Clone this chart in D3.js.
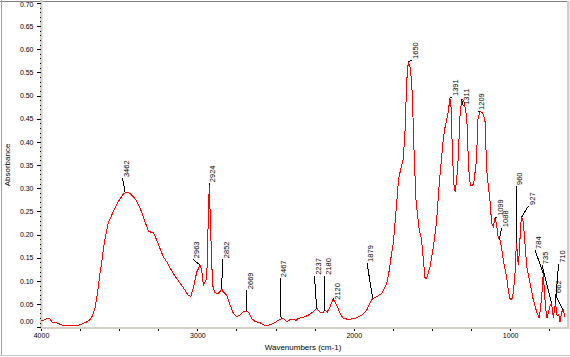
<!DOCTYPE html>
<html><head><meta charset="utf-8">
<script src="https://cdn.jsdelivr.net/npm/d3@7"></script>
<style>
html,body{margin:0;padding:0;background:#fff;}
svg{display:block;}
text{font-family:"Liberation Sans",Arial,sans-serif;fill:#000;}
</style></head><body>
<svg id="chart" width="570" height="357"></svg>
<script>
const wavenumbers = [
4000,3964,3942,3930,3910,3889,3868,3847,3815,3783,
3751,3729,3704,3687,3669,3655,3644,3634,3623,3612,
3602,3591,3570,3538,3506,3474,3456,3431,3410,3388,
3367,3335,3314,3297,3282,3260,3239,3218,3196,3154,
3111,3079,3058,3041,3026,3004,2983,2972,2962,2951,
2940,2934,2924,2913,2903,2887,2866,2844,2834,2812,
2791,2770,2749,2727,2706,2685,2668,2653,2631,2600,
2568,2536,2504,2472,2451,2429,2408,2387,2369,2355,
2323,2291,2259,2237,2216,2199,2184,2169,2152,2131,
2109,2088,2067,2035,1992,1949,1917,1885,1853,1821,
1789,1773,1757,1747,1730,1714,1698,1683,1672,1666,
1661,1651,1640,1629,1619,1613,1602,1583,1566,1555,
1544,1534,1512,1491,1471,1454,1439,1428,1417,1406,
1396,1385,1379,1374,1368,1359,1351,1342,1332,1321,
1310,1296,1283,1274,1268,1260,1251,1241,1232,1214,
1208,1193,1176,1161,1155,1150,1140,1129,1118,1108,
1097,1086,1076,1065,1055,1044,1022,1012,1001,990,
980,969,962,959,948,940,933,926,916,905,
894,884,873,852,830,814,798,788,777,766,
756,745,735,724,710,700,690,681,670,661,649];
const absorbance = [
.013,.018,.018,.011,.010,.008,.005,.003,.003,.003,
.005,.008,.012,.016,.026,.041,.062,.087,.116,.138,
.167,.190,.225,.249,.271,.287,.292,.289,.282,.272,
.258,.228,.208,.205,.205,.188,.170,.152,.141,.116,
.095,.080,.068,.067,.085,.119,.134,.123,.091,.098,
.106,.188,.307,.188,.091,.074,.073,.082,.076,.069,
.048,.030,.023,.026,.033,.035,.030,.019,.012,.010,
.003,.005,.010,.017,.019,.012,.016,.017,.014,.019,
.021,.026,.033,.041,.033,.031,.037,.033,.044,.062,
.048,.030,.019,.017,.019,.026,.037,.060,.066,.073,
.095,.123,.162,.182,.249,.318,.344,.364,.426,.484,
.533,.573,.562,.527,.433,.365,.274,.214,.188,.145,
.106,.106,.130,.173,.227,.307,.364,.404,.430,.447,
.465,.494,.484,.433,.365,.307,.292,.318,.364,.454,
.492,.489,.465,.433,.365,.318,.305,.305,.313,.364,
.447,.465,.463,.447,.390,.339,.307,.274,.224,.217,
.235,.221,.192,.188,.171,.145,.108,.080,.062,.059,
.073,.116,.167,.182,.134,.167,.221,.238,.227,.181,
.131,.113,.095,.059,.033,.019,.066,.116,.059,.019,
.030,.045,.052,.020,.052,.025,.028,.012,.033,.037,.023];

const peakLabels = ["3462","2963","2924","2852","2669","2467","2237","2180","2120","1879","1650",
  "1391","1311","1209","1099","1088","960","927","784","735","710","662"];
const peakWavenumbers = [3463,2983,2924,2846,2683,2465,2237,2187,2131,1879,1651,
  1385,1310,1193,1097,1069,959,926,787,735,710,661];
const peakAbsorbance = [.293,.134,.307,.082,.035,.019,.040,.035,.062,.062,.573,
  .494,.492,.465,.235,.188,.182,.238,.115,.052,.052,.037];
const labelWavenumbers = [3456,3006,2903,2814,2664,2449,2229,2165,2107,1893,1608,
  1353,1278,1183,1065,1033,940,860,819,774,668,691];
const labelAbsorbance = [.324,.149,.313,.149,.082,.108,.113,.113,.059,.141,.579,
  .499,.480,.469,.240,.216,.307,.264,.169,.136,.139,.074];

const yTickValues = [0,0.05,0.10,0.15,0.20,0.25,0.30,0.35,0.40,0.45,0.50,0.55,0.60,0.65,0.70];
const xTickValues = [4000,3750,3500,3250,3000,2750,2500,2250,2000,1750,1500,1250,1000,750];
const xTickLabels = [4000,3000,2000,1000];

const svg = d3.select("#chart");
const x = d3.scaleLinear().domain([4000,630]).range([41,568]);
const y = d3.scaleLinear().domain([0,0.70]).range([327.2,2.9]);

// frame
svg.append("line").attr("x1",0).attr("x2",567).attr("y1",1.5).attr("y2",1.5).attr("stroke","#808080");
svg.append("line").attr("x1",1.5).attr("x2",1.5).attr("y1",0).attr("y2",356).attr("stroke","#a0a0a0");
svg.append("line").attr("x1",0).attr("x2",570).attr("y1",355.5).attr("y2",355.5).attr("stroke","#c8c8c8");
svg.append("rect").attr("x",567).attr("y",1).attr("width",2.5).attr("height",328).attr("fill","#d4d0c8");
svg.append("rect").attr("x",40).attr("y",0).attr("width",2.5).attr("height",329).attr("fill","#d4d0c8");
svg.append("rect").attr("x",40).attr("y",327).attr("width",529).attr("height",2).attr("fill","#d4d0c8");

// y axis
const yAxis = svg.append("g").attr("transform","translate(40,0)")
  .call(d3.axisLeft(y).tickValues(yTickValues).tickFormat(d3.format(".2f")).tickSize(3).tickPadding(3.5));
yAxis.select(".domain").remove();
yAxis.selectAll("line").attr("stroke","#000").attr("shape-rendering","crispEdges");
yAxis.selectAll("text").style("font-size","7px").attr("font-family",null);
yAxis.selectAll(".tick").filter(d=>d===0).select("text").attr("y",-6);
yAxis.selectAll(".tick").filter(d=>d===0.70).select("text").attr("y",1.6);
const minor = svg.append("g").attr("transform","translate(41,0)")
  .call(d3.axisLeft(y).tickValues(d3.range(0,71).map(i=>i/100)).tickFormat("").tickSize(1));
minor.select(".domain").remove();
minor.selectAll("line").attr("stroke","#000").attr("shape-rendering","crispEdges");

// x axis
const xAxis = svg.append("g").attr("transform","translate(0,329)")
  .call(d3.axisBottom(x).tickValues(xTickValues).tickSize(2).tickPadding(2)
    .tickFormat(d => xTickLabels.includes(d) ? String(d) : ""));
xAxis.select(".domain").remove();
xAxis.selectAll("line").attr("stroke","#000").attr("shape-rendering","crispEdges");
xAxis.selectAll("text").style("font-size","7px");

// axis titles
svg.append("text").attr("x",303).attr("y",350).attr("text-anchor","middle")
  .style("font-size","8px").text("Wavenumbers (cm-1)");
svg.append("text").attr("transform","translate(10,165) rotate(-90)").attr("text-anchor","middle")
  .style("font-size","8px").text("Absorbance");

// spectrum
const pts = wavenumbers.map((w,i)=>[w,absorbance[i]]);
svg.append("path").datum(pts)
  .attr("d", d3.line().x(d=>x(d[0])).y(d=>y(d[1])))
  .attr("fill","none").attr("stroke","#ff0000").attr("stroke-width",1)
  .attr("shape-rendering","crispEdges");

// peak labels
const peaks = peakLabels.map((t,i)=>({t, pw:peakWavenumbers[i], pa:peakAbsorbance[i], lw:labelWavenumbers[i], la:labelAbsorbance[i]}));
const pg = svg.append("g");
pg.selectAll("line").data(peaks).join("line")
  .attr("x1",d=>x(d.lw)-3.5).attr("y1",d=>y(d.la)+1)
  .attr("x2",d=>x(d.pw)).attr("y2",d=>y(d.pa))
  .attr("stroke","#000").attr("stroke-width",1).attr("shape-rendering","crispEdges");
pg.selectAll("text").data(peaks).join("text")
  .attr("transform",d=>`translate(${x(d.lw)},${y(d.la)}) rotate(-90)`)
  .attr("dy","0.35em").style("font-size","7.5px").text(d=>d.t);
</script>
</body></html>
